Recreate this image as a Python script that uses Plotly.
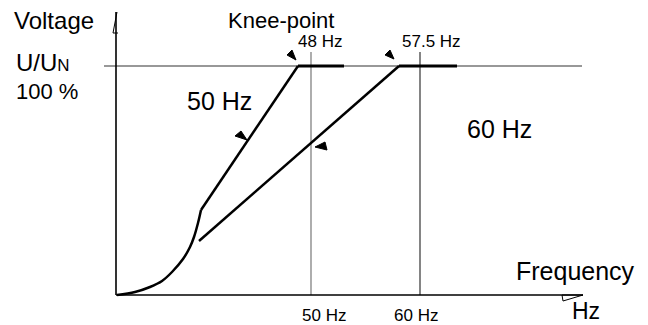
import plotly.graph_objects as go

# schematic V/f diagram, coordinates in diagram units (x right, y down)
W, H = 648, 325

# axes
x_axis_x = [116, 583]
x_axis_y = [295, 295]
y_axis_x = [116, 116]
y_axis_y = [12, 295]
x_head_x = [562, 583, 563, 562]
x_head_y = [295, 295, 301, 295]
y_head_x = [117, 113, 118]
y_head_y = [12, 33, 33]

# reference lines
ref100_x = [104, 582]
ref100_y = [66, 66]
f50_x = [311, 311]
f60_x = [420, 420]
fline_y = [52, 295]

# 50 Hz characteristic: quadratic start, linear rise, flat after knee
q_x = [117, 135, 150, 162, 172, 183, 190, 194, 198, 201]
q_y = [295, 292, 287, 281, 272, 259, 247, 237, 223, 210]
lin50_x = [201, 298]
lin50_y = [210, 66]
flat50_x = [298, 344]
flat50_y = [66, 66]

# 60 Hz characteristic
lin60_x = [199, 399]
lin60_y = [241, 66]
flat60_x = [399, 457]
flat60_y = [66, 66]

# pointer triangles
tri = [
    ([235, 241, 247, 235], [136, 131, 140, 136]),
    ([315, 325, 327, 315], [147, 142, 150, 147]),
    ([287, 292, 296, 287], [55, 50, 60, 55]),
    ([385, 390, 394, 385], [55, 50, 59, 55]),
]

# labels: text, x, y, size
labels = [
    ("Voltage", 13, 20, 24),
    ("U/U<span style='font-size:17px'>N</span>", 15, 62, 24),
    ("100 %", 15, 91, 22),
    ("50 Hz", 186, 101, 25),
    ("Knee-point", 227, 20, 22),
    ("48 Hz", 297, 41, 17),
    ("57.5 Hz", 401, 41, 17),
    ("60 Hz", 466, 129, 25),
    ("Frequency", 515, 271, 25),
    ("Hz", 571, 311, 23),
    ("50 Hz", 301, 315, 17),
    ("60 Hz", 393, 315, 17),
]

fig = go.Figure()


def seg(x, y, color="black", width=1.5, shape="linear"):
    fig.add_trace(go.Scatter(x=x, y=y, mode="lines",
                             line=dict(color=color, width=width, shape=shape),
                             hoverinfo="skip", showlegend=False))


seg(ref100_x, ref100_y, "#333333", 1.2)
seg(f50_x, fline_y, "#777777", 1.2)
seg(f60_x, fline_y, "#333333", 1.2)
seg(x_axis_x, x_axis_y, "black", 1.6)
seg(y_axis_x, y_axis_y, "black", 1.6)
seg(x_head_x, x_head_y, "black", 1)
seg(y_head_x, y_head_y, "black", 1)

seg(q_x, q_y, "black", 2.5, "spline")
seg(lin50_x, lin50_y, "black", 2.5)
seg(flat50_x, flat50_y, "black", 3)
seg(lin60_x, lin60_y, "black", 2.5)
seg(flat60_x, flat60_y, "black", 3)

for tx, ty in tri:
    fig.add_trace(go.Scatter(x=tx, y=ty, mode="lines", fill="toself",
                             fillcolor="black", line=dict(color="black", width=1),
                             hoverinfo="skip", showlegend=False))

for text, x, y, size in labels:
    fig.add_annotation(x=x, y=y, text=text, showarrow=False,
                       xanchor="left", yanchor="middle", borderpad=0,
                       font=dict(family="Liberation Sans, Arial", size=size, color="black"))

fig.update_layout(
    width=W, height=H,
    margin=dict(l=0, r=0, t=0, b=0),
    paper_bgcolor="white", plot_bgcolor="white",
    xaxis=dict(range=[0, W], visible=False, fixedrange=True),
    yaxis=dict(range=[H, 0], visible=False, fixedrange=True),
    showlegend=False,
)

fig.write_html("out.html", config={"displayModeBar": False},
               post_script="document.body.style.margin='0';")
